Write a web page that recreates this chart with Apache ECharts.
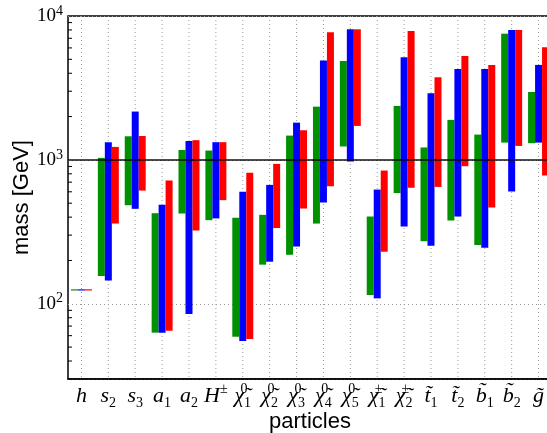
<!DOCTYPE html>
<html>
<head>
<meta charset="utf-8">
<script src="https://cdn.jsdelivr.net/npm/echarts@6/dist/echarts.min.js"></script>
<style>
  html, body { margin: 0; padding: 0; background: #fff; }
  #chart { width: 547px; height: 433px; }
</style>
</head>
<body>
<div id="chart"></div>
<script>
// particle labels (rich text)
const particles = [
  '{i|h}', '{i|s}{sub|2}', '{i|s}{sub|3}', '{i|a}{sub|1}', '{i|a}{sub|2}', '{i|H}{sup|±}',
  '{i|χ̃}{supz|0}{sub|1}', '{i|χ̃}{supz|0}{sub|2}', '{i|χ̃}{supz|0}{sub|3}', '{i|χ̃}{supz|0}{sub|4}', '{i|χ̃}{supz|0}{sub|5}',
  '{i|χ̃}{supz|±}{sub|1}', '{i|χ̃}{supz|±}{sub|2}',
  '{i|t̃}{sub|1}', '{i|t̃}{sub|2}', '{i|b̃}{sub|1}', '{i|b̃}{sub|2}', '{i|g̃}'
]

// mass ranges [low, high] in GeV
const greenRange = [
  [124, 126], [156, 1033], [484, 1459], [63, 426], [424, 1172], [381, 1161],
  [59, 396], [187, 415], [219, 1475], [361, 2344], [1239, 4870],
  [115, 404], [588, 2371], [272, 1220], [379, 1897], [256, 1499], [1319, 7536], [1306, 2966]
]
const blueRange = [
  [124, 126], [145, 1328], [457, 2167], [63, 487], [85, 1355], [392, 1328],
  [55, 600], [196, 670], [250, 1815], [506, 4898], [973, 8080],
  [109, 622], [344, 5165], [253, 2904], [404, 4285], [245, 4285], [603, 8000], [1319, 4571]
]
const redRange = [
  [124, 126], [361, 1231], [612, 1466], [65, 718], [323, 1371], [525, 1328],
  [57, 813], [336, 938], [459, 1607], [656, 7710], [1722, 8080],
  [230, 843], [640, 7870], [649, 3751], [904, 5275], [467, 4571], [1250, 8000], [778, 6064]
]

// minor ticks of the log axis
const minorTicks = [40, 50, 60, 70, 80, 90, 200, 300, 400, 500, 600, 700, 800, 900,
  2000, 3000, 4000, 5000, 6000, 7000, 8000, 9000]

const chart = echarts.init(document.getElementById('chart'))

function rangeSeries (name, data, color, offset) {
  return {
    name: name,
    type: 'custom',
    data: data.map((d, i) => [i, d[0], d[1]]),
    encode: { x: 0, y: [1, 2] },
    z: 3,
    renderItem (params, api) {
      const lo = api.coord([api.value(0), api.value(1)])
      const hi = api.coord([api.value(0), api.value(2)])
      const band = api.size([1, 100])[0]
      const w = band * 0.26
      return {
        type: 'rect',
        shape: { x: lo[0] + offset * w - w / 2, y: hi[1], width: w, height: Math.max(lo[1] - hi[1], 1.2) },
        style: { fill: color }
      }
    }
  }
}

const option = {
  animation: false,
  grid: {
    left: 68, top: 16, width: 484, height: 363,
    outerBoundsMode: 'none',
    show: true, borderColor: '#000', borderWidth: 1.5
  },
  xAxis: {
    type: 'category',
    data: particles,
    name: 'particles',
    nameLocation: 'middle',
    nameGap: 32,
    nameMoveOverlap: false,
    nameTextStyle: { fontFamily: 'Liberation Sans', fontSize: 22, color: '#000' },
    axisLine: { lineStyle: { color: '#000', width: 1.5 } },
    axisTick: { alignWithLabel: true, inside: true, length: 4, lineStyle: { color: '#000' } },
    splitLine: { show: false },
    axisLabel: {
      interval: 0,
      margin: 3,
      color: '#000',
      rich: {
        i: { fontFamily: 'Liberation Serif', fontStyle: 'italic', fontSize: 22, lineHeight: 28, verticalAlign: 'middle' },
        sub: { fontFamily: 'Liberation Serif', fontSize: 14, lineHeight: 14, verticalAlign: 'bottom' },
        sup: { fontFamily: 'Liberation Serif', fontSize: 14, lineHeight: 14, verticalAlign: 'top' },
        supz: { fontFamily: 'Liberation Serif', fontSize: 14, lineHeight: 14, verticalAlign: 'top', width: 0.01, align: 'left' }
      }
    }
  },
  yAxis: {
    type: 'log',
    logBase: 10,
    min: 30,
    max: 10000,
    name: 'mass [GeV]',
    nameLocation: 'middle',
    nameGap: 35,
    nameMoveOverlap: false,
    nameTextStyle: { fontFamily: 'Liberation Sans', fontSize: 22, color: '#000' },
    axisLine: { lineStyle: { color: '#000', width: 1.5 } },
    axisTick: { inside: true, length: 7, lineStyle: { color: '#000' } },
    splitLine: { show: true, lineStyle: { color: '#999', type: [1, 3], width: 1 } },
    axisLabel: {
      margin: 5,
      color: '#000',
      formatter (v) {
        const e = Math.round(Math.log10(v))
        if (Math.abs(Math.pow(10, e) - v) > 1e-6) return ''
        return '{b|10}{e|' + e + '}'
      },
      rich: {
        b: { fontFamily: 'Liberation Serif', fontSize: 19, lineHeight: 24, verticalAlign: 'middle' },
        e: { fontFamily: 'Liberation Serif', fontSize: 14, lineHeight: 14, verticalAlign: 'top' }
      }
    }
  },
  series: [
    {
      // dotted vertical grid lines at the category centres
      name: 'vgrid',
      type: 'custom',
      data: particles.map((p, i) => [i, 100]),
      encode: { x: 0, y: 1 },
      silent: true,
      z: 1,
      renderItem (params, api) {
        const p = api.coord([api.value(0), api.value(1)])
        const cs = params.coordSys
        return {
          type: 'line',
          shape: { x1: p[0], y1: cs.y, x2: p[0], y2: cs.y + cs.height },
          style: { stroke: '#999', lineWidth: 1, lineDash: [1, 3] }
        }
      }
    },
    rangeSeries('green', greenRange, '#009100', -1),
    rangeSeries('blue', blueRange, '#0000ff', 0),
    rangeSeries('red', redRange, '#ff0000', 1),
    {
      name: 'minor',
      type: 'custom',
      data: minorTicks.map(v => [0, v]),
      encode: { x: 0, y: 1 },
      silent: true,
      renderItem (params, api) {
        const p = api.coord([api.value(0), api.value(1)])
        const x0 = params.coordSys.x
        return {
          type: 'line',
          shape: { x1: x0, y1: p[1], x2: x0 + 4, y2: p[1] },
          style: { stroke: '#000', lineWidth: 1 }
        }
      }
    },
    {
      name: 'ref',
      type: 'line',
      data: [],
      markLine: {
        silent: true,
        symbol: 'none',
        label: { show: false },
        lineStyle: { color: '#000', opacity: 0.7, width: 1.8, type: 'solid' },
        data: [{ yAxis: 1000 }]
      }
    }
  ]
}

chart.setOption(option)
</script>
</body>
</html>
